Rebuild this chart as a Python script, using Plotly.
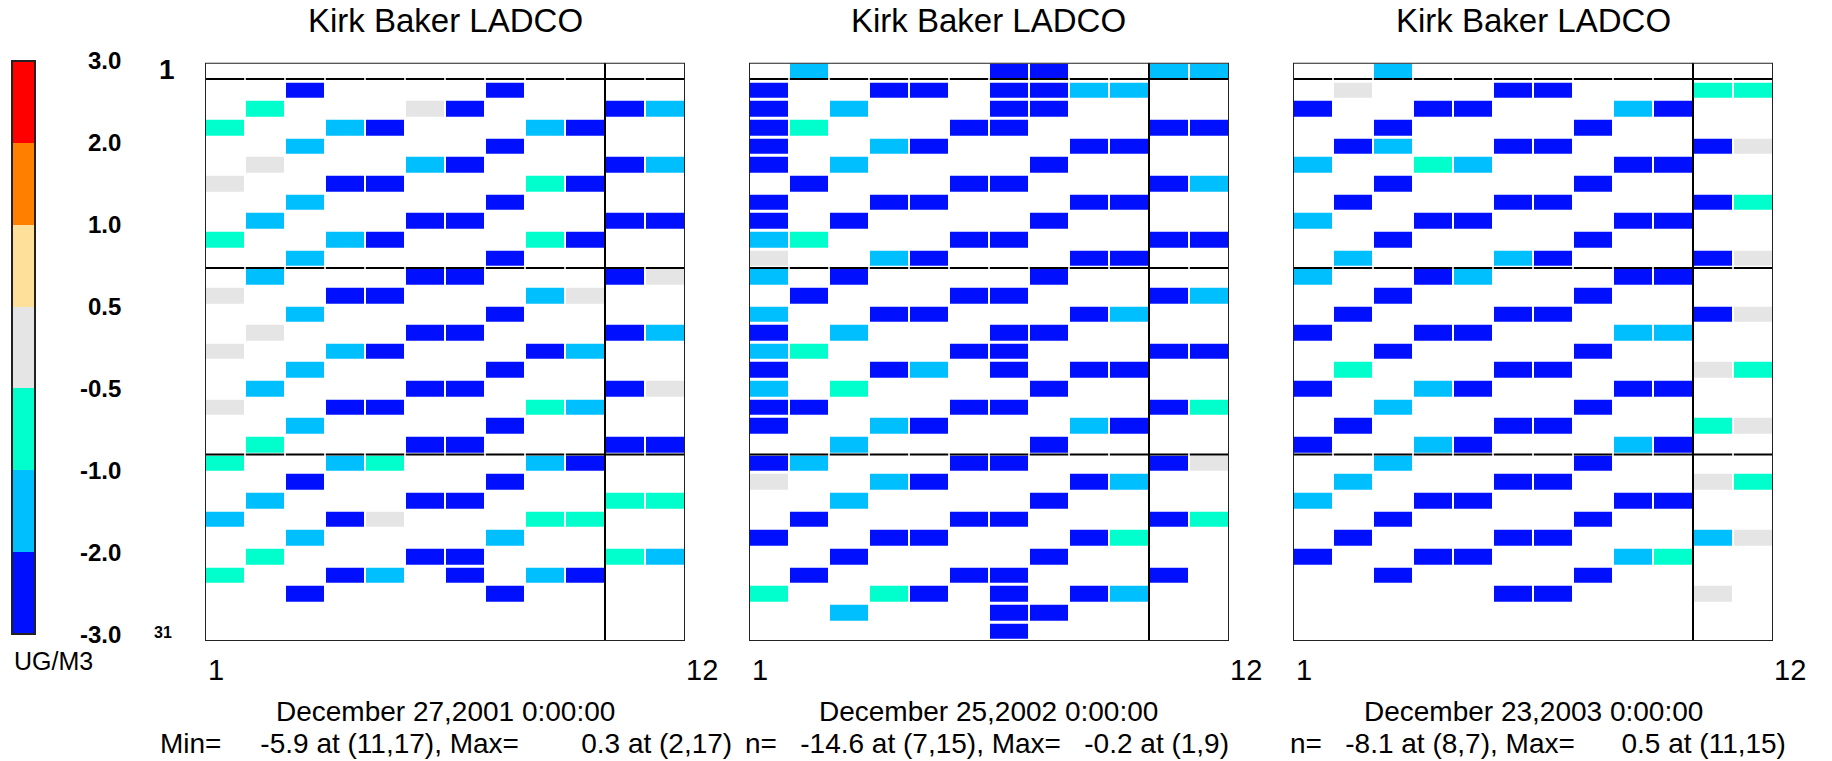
import plotly.graph_objects as go

# ---------------- data ----------------
TITLES = ["Kirk Baker LADCO", "Kirk Baker LADCO", "Kirk Baker LADCO"]
DATES = ["December 27,2001 0:00:00", "December 25,2002 0:00:00", "December 23,2003 0:00:00"]
SP = "\u00a0"
STATS = ["Min=" + SP * 5 + "-5.9 at (11,17), Max=" + SP * 8 + "0.3 at (2,17)",
         "n=" + SP * 3 + "-14.6 at (7,15), Max=" + SP * 3 + "-0.2 at (1,9)",
         "n=" + SP * 3 + "-8.1 at (8,7), Max=" + SP * 6 + "0.5 at (11,15)"]

LEVELS = [-3.0, -2.0, -1.0, -0.5, 0.5, 1.0, 2.0, 3.0]
LEVEL_LABELS = ["-3.0", "-2.0", "-1.0", "-0.5", "0.5", "1.0", "2.0", "3.0"]
LEVEL_COLORS = ["#0010FF", "#00BFFF", "#00FFCC", "#E5E5E5", "#FFE09A", "#FF8000", "#FF0000"]
UNITS = "UG/M3"

# estimated cell values by colour class
CLASS_VALUE = {"B": -3.5, "C": -1.5, "T": -0.75, "G": -0.3}

# rows listed from top (row 31) to bottom (row 1); columns 1..12
P1_ROWS = [
    "............",
    "..B....B....",
    ".T...GB...BC",
    "T..CB...CB..",
    "..C....B....",
    ".G...CB...BC",
    "G..BB...TB..",
    "..C....B....",
    ".C...BB...BB",
    "T..CB...TB..",
    "..C....B....",
    ".C...BB...BG",
    "G..BB...CG..",
    "..C....B....",
    ".G...BB...BC",
    "G..CB...BC..",
    "..C....B....",
    ".C...BB...BG",
    "G..BB...TC..",
    "..C....B....",
    ".T...BB...BB",
    "T..CT...CB..",
    "..B....B....",
    ".C...BB...TT",
    "C..BG...TT..",
    "..C....C....",
    ".T...BB...TC",
    "T..BC.B.CB..",
    "..B....B....",
    "............",
    "............",
]
P2_ROWS = [
    ".C....BB..CC",
    "B..BB.BBCC..",
    "B.C...BB....",
    "BT...BB...BB",
    "B..CB...BB..",
    "B.C....B....",
    ".B...BB...BC",
    "B..BB...BB..",
    "B.B....B....",
    "CT...BB...BB",
    "G..CB...BB..",
    "C.B....B....",
    ".B...BB...BC",
    "C..BB...BC..",
    "B.C...BB....",
    "CT...BB...BB",
    "B..BC.B.BB..",
    "C.T....B....",
    "BB...BB...BT",
    "B..CB...CB..",
    "..C....B....",
    "BC...BB...BG",
    "G..CB...BC..",
    "..C....B....",
    ".B...BB...BT",
    "B..BB...BT..",
    "..B....B....",
    ".B...BB...B.",
    "T..TB.B.BC..",
    "..C...BB....",
    "......B.....",
]
P3_ROWS = [
    "..C.........",
    ".G...BB...TT",
    "B..BB...CB..",
    "..B....B....",
    ".BC..BB...BG",
    "C..TC...BB..",
    "..B....B....",
    ".B...BB...BT",
    "C..BB...BB..",
    "..B....B....",
    ".C...CB...BG",
    "C..BC...BB..",
    "..B....B....",
    ".B...BB...BG",
    "B..BB...CC..",
    "..B....B....",
    ".T...BB...GT",
    "B..CB...BB..",
    "..C....B....",
    ".B...BB...TG",
    "B..CB...CB..",
    "..C....B....",
    ".C...BB...GT",
    "C..BB...BB..",
    "..B....B....",
    ".B...BB...CG",
    "B..BB...CT..",
    "..B....B....",
    ".....BB...G.",
    "............",
    "............",
]
# extremes stated in the captions: (col, row) -> value
P1_EXTREMES = {(11, 17): -5.9, (2, 17): 0.3}
P2_EXTREMES = {(7, 15): -14.6, (1, 9): -0.2}
P3_EXTREMES = {(8, 7): -8.1, (11, 15): 0.48}

PANELS = [(P1_ROWS, P1_EXTREMES), (P2_ROWS, P2_EXTREMES), (P3_ROWS, P3_EXTREMES)]
NCOL, NROW = 12, 31
COLS = list(range(1, NCOL + 1))
ROWS = list(range(1, NROW + 1))
H_LINES = [30.63, 20.5, 10.5]
V_LINES = [10.5]

# ---------------- layout geometry (pixels) ----------------
W, H = 1832, 761
def fx(x): return x / W
def fy(y): return 1 - y / H

PANEL_LEFT = [205, 749, 1293]
PANEL_W = 480
PANEL_TOP, PANEL_BOT = 62.7, 641
CB_L, CB_R, CB_T, CB_B = 12, 35, 61, 634
FONT = "Liberation Sans, Arial, sans-serif"

vmin, vmax = LEVELS[0], LEVELS[-1]
def norm(v): return (v - vmin) / (vmax - vmin)
colorscale = []
for i, c in enumerate(LEVEL_COLORS):
    colorscale.append([norm(LEVELS[i]), c])
    colorscale.append([norm(LEVELS[i + 1]), c])

def grid(rows, extremes):
    z = []
    for r in ROWS:
        s = rows[NROW - r]
        line = []
        for c in COLS:
            v = CLASS_VALUE.get(s[c - 1])
            if (c, r) in extremes:
                v = extremes[(c, r)]
            line.append(v)
        z.append(line)
    return z

def note(text, x, y, size, anchor="center", bold=False):
    if bold:
        text = "<b>%s</b>" % text
    return dict(text=text, x=fx(x), y=fy(y), xref="paper", yref="paper",
                xanchor=anchor, yanchor="middle", showarrow=False,
                font=dict(size=size, color="black", family=FONT))

fig = go.Figure()
shapes = []
annotations = []

for i, (rows, ext) in enumerate(PANELS):
    n = "" if i == 0 else str(i + 1)
    xa, ya = "x" + n, "y" + n
    fig.add_trace(go.Heatmap(
        x=COLS, y=ROWS, z=grid(rows, ext), xaxis=xa, yaxis=ya,
        colorscale=colorscale, zmin=vmin, zmax=vmax, showscale=False,
        xgap=2, ygap=3, hoverongaps=False))
    L = PANEL_LEFT[i]
    fig.update_layout(**{
        "xaxis" + n: dict(domain=[fx(L), fx(L + PANEL_W)], range=[0.5, 12.5],
                          showgrid=False, zeroline=False, showticklabels=False, ticks="", anchor=ya),
        "yaxis" + n: dict(domain=[fy(PANEL_BOT), fy(PANEL_TOP)], range=[0.5, 31.5],
                          showgrid=False, zeroline=False, showticklabels=False, ticks="", anchor=xa),
    })
    # boundary lines, broken at the cell gaps
    for yv in H_LINES:
        for c in COLS:
            shapes.append(dict(type="line", xref=xa, yref=ya, x0=c - 0.5 + 0.02, x1=c + 0.5 - 0.02,
                               y0=yv, y1=yv, line=dict(color="black", width=2)))
    for xv in V_LINES:
        shapes.append(dict(type="line", xref=xa, yref=ya, x0=xv, x1=xv, y0=0.5, y1=31.5,
                           line=dict(color="black", width=2)))
    shapes.append(dict(type="rect", xref=xa, yref=ya, x0=0.5, x1=12.5, y0=0.5, y1=31.5,
                       line=dict(color="#222", width=2)))
    cx = L + PANEL_W / 2
    annotations += [
        note(TITLES[i], cx, 21, 33),
        note(str(COLS[0]), L + 1, 670, 29, "left"),
        note(str(COLS[-1]), L + PANEL_W + 35, 670, 29, "right"),
        note(DATES[i], cx, 711, 28),
    ]

annotations += [
    note(STATS[0], 158, 743, 28, "left"),
    note(STATS[1], 743, 743, 28, "left"),
    note(STATS[2], 1288, 743, 28, "left"),
    note(str(ROWS[0]), 167, 69, 28, bold=True),
    note(str(ROWS[-1]), 163, 632, 16, bold=True),
    note(UNITS, 12, 661, 25, "left"),
]

# colour legend
mids = [(LEVELS[k] + LEVELS[k + 1]) / 2 for k in range(len(LEVEL_COLORS))]
fig.add_trace(go.Heatmap(
    x=[0], y=list(range(len(mids))), z=[[m] for m in mids], xaxis="x4", yaxis="y4",
    colorscale=colorscale, zmin=vmin, zmax=vmax, showscale=False, hoverinfo="skip"))
fig.update_layout(
    xaxis4=dict(domain=[fx(CB_L), fx(CB_R)], range=[-0.5, 0.5], visible=False, anchor="y4"),
    yaxis4=dict(domain=[fy(CB_B), fy(CB_T)], range=[-0.5, len(mids) - 0.5], visible=False, anchor="x4"),
)
shapes.append(dict(type="rect", xref="paper", yref="paper", x0=fx(CB_L), x1=fx(CB_R),
                   y0=fy(CB_B), y1=fy(CB_T), line=dict(color="#222", width=2)))
step = (CB_B - CB_T) / len(mids)
for k, lab in enumerate(LEVEL_LABELS):
    annotations.append(note(lab, 123, CB_B - k * step, 24, "right", bold=True))

fig.update_layout(width=W, height=H, margin=dict(l=0, r=0, t=0, b=0),
                  paper_bgcolor="white", plot_bgcolor="white",
                  shapes=shapes, annotations=annotations, showlegend=False)
fig.write_html("out.html")
